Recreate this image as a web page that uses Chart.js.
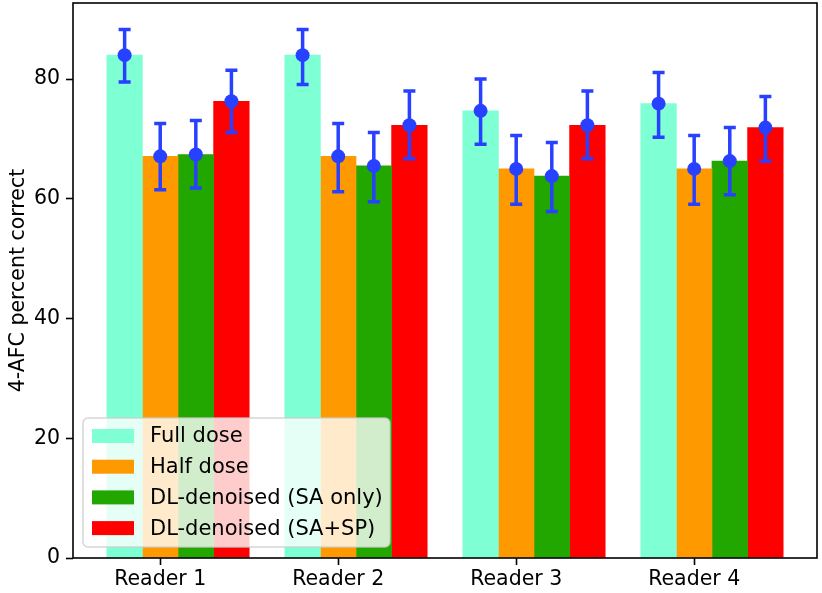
<!DOCTYPE html>
<html>
<head>
<meta charset="utf-8">
<script src="https://cdn.jsdelivr.net/npm/chart.js@4/dist/chart.umd.min.js"></script>
<style>
  body { margin: 0; background: #fff; }
  #wrap { width: 822px; height: 593px; }
</style>
</head>
<body>
<div id="wrap"><canvas id="myChart" width="822" height="593"></canvas></div>
<script>
// readers on the x axis
const readers = ['Reader 1', 'Reader 2', 'Reader 3', 'Reader 4'];
const seriesNames = ['Full dose', 'Half dose', 'DL-denoised (SA only)', 'DL-denoised (SA+SP)'];

// bar heights (percent correct)
const fullDose = [84.0, 84.0, 74.7, 75.9];
const halfDose = [67.1, 67.1, 65.0, 65.0];
const saOnly = [67.4, 65.5, 63.8, 66.3];
const saSp = [76.3, 72.3, 72.3, 71.9];

// error bar ends
const fullHigh = [88.3, 88.3, 80.0, 81.1];
const fullLow = [79.5, 79.1, 69.1, 70.3];
const halfHigh = [72.6, 72.6, 70.6, 70.6];
const halfLow = [61.5, 61.2, 59.1, 59.1];
const saOnlyHigh = [73.1, 71.1, 69.4, 71.9];
const saOnlyLow = [61.8, 59.5, 57.9, 60.7];
const saSpHigh = [81.5, 78.0, 78.0, 77.1];
const saSpLow = [71.1, 66.7, 66.7, 66.3];

const yTicks = [0, 20, 40, 60, 80];

const values = [fullDose, halfDose, saOnly, saSp];
const highs = [fullHigh, halfHigh, saOnlyHigh, saSpHigh];
const lows = [fullLow, halfLow, saOnlyLow, saSpLow];
const colors = ['#7fffd4', '#ff9900', '#22a600', '#ff0000'];
const offsets = [-0.2, 0, 0.2, 0.4];
const errColor = '#2840ff';

Chart.defaults.font.family = "'DejaVu Sans', sans-serif";
Chart.defaults.font.size = 20.5;
Chart.defaults.color = '#000';

const datasets = values.map((vals, k) => ({
  label: seriesNames[k],
  data: vals.map((v, i) => ({ x: i + offsets[k], y: v })),
  backgroundColor: colors[k],
  borderWidth: 0,
  grouped: false,
  barPercentage: 1,
  categoryPercentage: 1
}));

const errorBars = {
  id: 'errorBars',
  afterDatasetsDraw(chart) {
    const ctx = chart.ctx;
    const y = chart.scales.y;
    ctx.save();
    ctx.strokeStyle = errColor;
    ctx.fillStyle = errColor;
    ctx.lineWidth = 3.5;
    values.forEach((vals, k) => {
      const meta = chart.getDatasetMeta(k);
      meta.data.forEach((bar, i) => {
        const x = bar.x;
        const yh = y.getPixelForValue(highs[k][i]);
        const yl = y.getPixelForValue(lows[k][i]);
        ctx.beginPath();
        ctx.moveTo(x, yh); ctx.lineTo(x, yl);
        ctx.moveTo(x - 6, yh); ctx.lineTo(x + 6, yh);
        ctx.moveTo(x - 6, yl); ctx.lineTo(x + 6, yl);
        ctx.stroke();
        ctx.beginPath();
        ctx.arc(x, y.getPixelForValue(vals[i]), 7, 0, Math.PI * 2);
        ctx.fill();
      });
    });
    ctx.restore();
  }
};

const frameAndLegend = {
  id: 'frameAndLegend',
  afterDraw(chart) {
    const ctx = chart.ctx;
    const a = chart.chartArea;
    ctx.save();
    ctx.strokeStyle = '#000';
    ctx.lineWidth = 1.6;
    ctx.strokeRect(a.left, a.top, a.right - a.left, a.bottom - a.top);

    // legend box
    const bx = a.left + 10, by = 418, bw = 307, bh = 129, r = 5;
    ctx.beginPath();
    ctx.roundRect(bx, by, bw, bh, r);
    ctx.fillStyle = 'rgba(255,255,255,0.8)';
    ctx.fill();
    ctx.strokeStyle = 'rgba(204,204,204,0.8)';
    ctx.lineWidth = 1.5;
    ctx.stroke();

    ctx.font = "21px 'DejaVu Sans', sans-serif";
    ctx.textBaseline = 'middle';
    ctx.textAlign = 'left';
    chart.data.datasets.forEach((ds, k) => {
      const cy = 436 + k * 30.7;
      ctx.fillStyle = ds.backgroundColor;
      ctx.fillRect(bx + 9, cy - 7, 42, 14);
      ctx.fillStyle = '#000';
      ctx.fillText(ds.label, bx + 67, cy + 1);
    });
    ctx.restore();
  }
};

new Chart(document.getElementById('myChart'), {
  type: 'bar',
  data: { datasets },
  options: {
    responsive: false,
    animation: false,
    layout: { padding: { top: 3, right: 5, left: 0, bottom: 0 } },
    plugins: { legend: { display: false }, tooltip: { enabled: false } },
    scales: {
      x: {
        type: 'linear',
        offset: false,
        min: -0.49,
        max: 3.69,
        afterBuildTicks: (s) => { s.ticks = readers.map((_, i) => ({ value: i })); },
        afterFit: (s) => { s.height = 35; s.paddingLeft = 0; s.paddingRight = 0; },
        ticks: {
          autoSkip: false,
          maxRotation: 0,
          padding: 2,
          callback: (v) => readers[v]
        },
        grid: { offset: false, drawOnChartArea: false, drawTicks: true, tickLength: 7, tickWidth: 1.6, tickColor: '#000' },
        border: { display: false }
      },
      y: {
        min: 0,
        max: Math.max(...fullHigh, ...halfHigh, ...saOnlyHigh, ...saSpHigh) * 1.05,
        afterBuildTicks: (s) => { s.ticks = yTicks.map((v) => ({ value: v })); },
        afterFit: (s) => { s.width = 73; s.paddingTop = 0; s.paddingBottom = 0; },
        ticks: { padding: 6 },
        grid: { drawOnChartArea: false, drawTicks: true, tickLength: 7, tickWidth: 1.6, tickColor: '#000' },
        border: { display: false },
        title: { display: true, text: '4-AFC percent correct', padding: { top: 6, bottom: 0 } }
      }
    }
  },
  plugins: [errorBars, frameAndLegend]
});
</script>
</body>
</html>
